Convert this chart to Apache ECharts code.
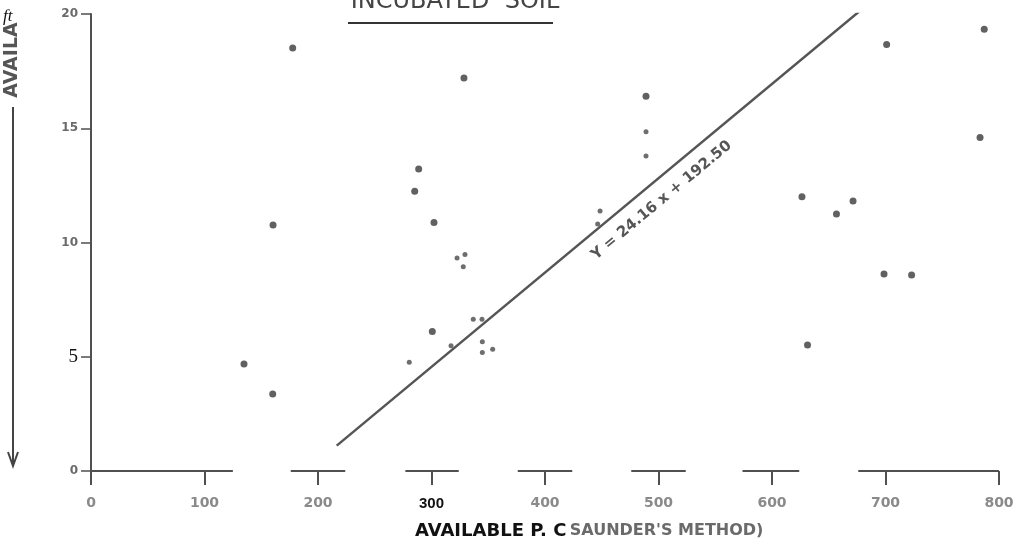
<!DOCTYPE html>
<html>
<head>
<meta charset="utf-8">
<script src="https://cdn.jsdelivr.net/npm/echarts@6/dist/echarts.min.js"></script>
<style>
  html, body { margin: 0; padding: 0; background: #fff; }
  #container { width: 1024px; height: 546px; }
</style>
</head>
<body>
<div id="container"></div>
<script>
// values (x: available P, y: available P incubated)
const bigDots = [
  [177.7, 18.51], [134.8, 4.68], [160.1, 3.37], [160.4, 10.77],
  [328.6, 17.2], [288.7, 13.22], [285.2, 12.24], [302.2, 10.87], [300.7, 6.10],
  [489, 16.4], [701, 18.66], [787, 19.33], [783.3, 14.6],
  [626.4, 12.0], [656.8, 11.25], [671.4, 11.82],
  [698.7, 8.62], [723, 8.58], [631.3, 5.51]
];
const smallDots = [
  [322.5, 9.32], [329.5, 9.48], [328, 8.94],
  [280.4, 4.76], [317.2, 5.48], [336.8, 6.64], [344.5, 6.64],
  [344.8, 5.66], [344.8, 5.19], [353.9, 5.33],
  [448.5, 11.38], [446.4, 10.81], [489, 14.85], [489, 13.79]
];
const fitLine = [[216.5, 1.11], [679, 20.2]];
const fitText = 'Y = 24.16 x + 192.50';

// hand drawn x axis is broken into pieces
const axisSegments = [[-10, 125], [176, 224], [277, 324], [376, 424], [476, 524], [574, 624], [676, 800]];

const titleText = 'INCUBATED  SOIL';
const yName = 'AVAILA';
const xNameBold = 'AVAILABLE P. C';
const xNameHand = "SAUNDER'S METHOD)";

const axisColor = '#505050';
const handFont = 'DejaVu Sans';

let segData = [];
axisSegments.forEach(function (s) {
  segData.push([s[0], 0], [s[1], 0], '-');
});

let option = {
  animation: false,
  grid: { left: 91, right: 25, top: 14, bottom: 75 },
  xAxis: {
    type: 'value',
    min: 0,
    max: 800,
    interval: 100,
    splitLine: { show: false },
    axisLine: { show: false },
    axisTick: { show: true, length: 14, lineStyle: { color: axisColor, width: 2 } },
    axisLabel: {
      margin: 25,
      formatter: function (v) {
        return v === 300 ? '{b|300}' : '{h|' + v + '}';
      },
      rich: {
        h: { fontFamily: handFont, fontWeight: 'bold', fontSize: 14, color: '#8a8a8a' },
        b: { fontFamily: 'Liberation Sans', fontWeight: 'bold', fontSize: 15, color: '#111' }
      }
    }
  },
  yAxis: {
    type: 'value',
    min: 0,
    max: 20,
    interval: 5,
    splitLine: { show: false },
    axisLine: { show: true, lineStyle: { color: axisColor, width: 2 } },
    axisTick: { show: true, length: 10, lineStyle: { color: axisColor, width: 1.5 } },
    axisLabel: {
      margin: 13,
      formatter: function (v) {
        return v === 5 ? '{s|5}' : '{h|' + v + '}';
      },
      rich: {
        h: { fontFamily: handFont, fontWeight: 'bold', fontSize: 12, color: '#6a6a6a' },
        s: { fontFamily: 'Liberation Serif', fontSize: 19, color: '#111' }
      }
    }
  },
  series: [
    {
      name: 'axis',
      type: 'line',
      data: segData,
      clip: false,
      silent: true,
      symbol: 'none',
      connectNulls: false,
      lineStyle: { color: axisColor, width: 2 }
    },
    {
      name: 'fit',
      type: 'line',
      data: fitLine,
      symbol: 'none',
      lineStyle: { color: '#555', width: 2.5 }
    },
    {
      name: 'dots',
      type: 'scatter',
      data: bigDots,
      symbolSize: 7,
      itemStyle: { color: '#3a3a3a' }
    },
    {
      name: 'small dots',
      type: 'scatter',
      data: smallDots,
      symbolSize: 5,
      itemStyle: { color: '#4a4a4a' }
    }
  ]
};

let chartDom = document.getElementById('container');
let chrt = echarts.init(chartDom);
chrt.setOption(option);

// equation label runs along the fitted line, slightly below it
let p0 = chrt.convertToPixel('grid', fitLine[0]);
let p1 = chrt.convertToPixel('grid', fitLine[1]);
let ang = Math.atan2(p0[1] - p1[1], p1[0] - p0[0]);
let labelX = 492;
let t = (labelX - fitLine[0][0]) / (fitLine[1][0] - fitLine[0][0]);
let onLine = chrt.convertToPixel('grid', [labelX, fitLine[0][1] + t * (fitLine[1][1] - fitLine[0][1])]);
let off = 19;
let labelPos = [onLine[0] + off * Math.sin(ang), onLine[1] + off * Math.cos(ang)];

chrt.setOption({
  graphic: [
    {
      type: 'text',
      x: labelPos[0],
      y: labelPos[1],
      rotation: ang,
      style: {
        text: fitText,
        fill: '#555',
        font: 'bold 15px "DejaVu Sans"',
        textAlign: 'center',
        textVerticalAlign: 'middle'
      }
    },
    {
      type: 'text',
      x: 455,
      y: 2,
      style: {
        text: titleText,
        fill: '#444',
        font: '24px "DejaVu Sans"',
        textAlign: 'center',
        textVerticalAlign: 'middle'
      }
    },
    {
      type: 'line',
      shape: { x1: 348, y1: 23, x2: 553, y2: 23 },
      style: { stroke: '#333', lineWidth: 2 }
    },
    {
      type: 'text',
      x: 12,
      y: 60,
      rotation: Math.PI / 2,
      style: {
        text: yName,
        fill: '#555',
        font: 'bold 19px "DejaVu Sans"',
        textAlign: 'center',
        textVerticalAlign: 'middle'
      }
    },
    {
      type: 'line',
      shape: { x1: 13, y1: 107, x2: 13, y2: 464 },
      style: { stroke: '#444', lineWidth: 2 }
    },
    {
      type: 'polyline',
      shape: { points: [[8, 452], [13, 466], [18, 452]] },
      style: { stroke: '#444', lineWidth: 2, fill: null }
    },
    {
      type: 'text',
      x: 3,
      y: 17,
      style: {
        text: 'ft',
        fill: '#111',
        font: 'italic 17px "Liberation Serif"',
        textVerticalAlign: 'middle'
      }
    },
    {
      type: 'text',
      x: 415,
      y: 531,
      style: {
        text: '{a|' + xNameBold + '} {b|' + xNameHand + '}',
        textVerticalAlign: 'middle',
        rich: {
          a: { fontFamily: handFont, fontWeight: 'bold', fontSize: 18, fill: '#111', color: '#111' },
          b: { fontFamily: handFont, fontWeight: 'bold', fontSize: 16, fill: '#6a6a6a', color: '#6a6a6a' }
        }
      }
    }
  ]
});
</script>
</body>
</html>
